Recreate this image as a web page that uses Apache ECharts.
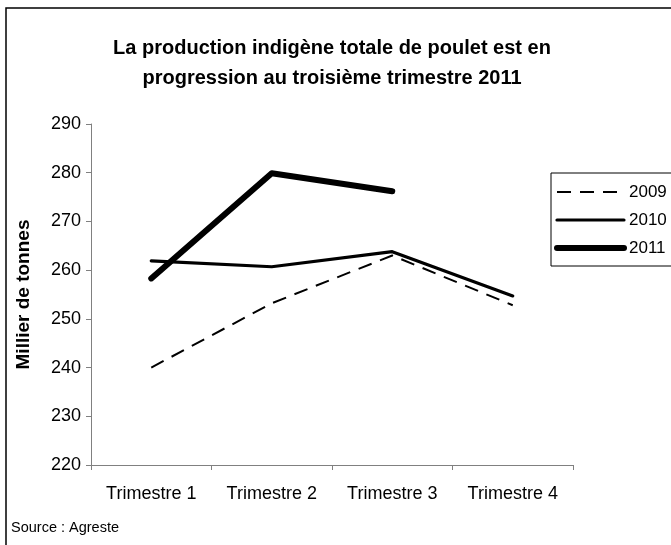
<!DOCTYPE html>
<html>
<head>
<meta charset="utf-8">
<script src="https://cdn.jsdelivr.net/npm/echarts@6/dist/echarts.min.js"></script>
<style>html,body{margin:0;padding:0;background:#fff}#c{width:671px;height:545px}</style>
</head>
<body>
<div id="c"></div>
<script>
const categories = ['Trimestre 1', 'Trimestre 2', 'Trimestre 3', 'Trimestre 4'];
const s2009 = [240.0, 253.2, 263.0, 252.8];
const s2010 = [261.9, 260.7, 263.8, 254.7];
const s2011 = [258.3, 279.9, 276.2, null];
const seriesNames = ['2009', '2010', '2011'];
const titleText = 'La production indigène totale de poulet est en\nprogression au troisième trimestre 2011';
const yAxisName = 'Millier de tonnes';
const sourceText = 'Source : Agreste';

const FONT = '"Liberation Sans", Arial, sans-serif';
const chart = echarts.init(document.getElementById('c'), null, {renderer: 'canvas'});
chart.setOption({
  animation: false,
  backgroundColor: '#fff',
  textStyle: {fontFamily: FONT},
  title: {
    text: titleText,
    left: 327, textAlign: 'center', top: 28,
    textStyle: {fontFamily: FONT, fontSize: 20, fontWeight: 'bold', color: '#000', lineHeight: 30}
  },
  graphic: [
    {type: 'rect', shape: {x: 6, y: 8, width: 700, height: 600}, style: {fill: 'none', stroke: '#000', lineWidth: 1.5}, silent: true},
    {type: 'text', left: 11, top: 520, style: {text: sourceText, font: '14.5px "Liberation Sans", Arial, sans-serif', fill: '#000'}}
  ],
  legend: {
    left: 551, top: 173,
    orient: 'vertical',
    itemWidth: 67, itemHeight: 14, itemGap: 10,
    padding: [10, 60, 9, 3],
    borderColor: '#000', borderWidth: 1,
    itemStyle: {opacity: 0},
    lineStyle: {width: 'inherit', type: 'inherit', cap: 'inherit'},
    textStyle: {fontFamily: FONT, fontSize: 17, color: '#000', lineHeight: 18},
    data: seriesNames
  },
  grid: {left: 91, right: 98, top: 124, bottom: 80, containLabel: false},
  xAxis: {
    type: 'category', data: categories, boundaryGap: true,
    axisLine: {lineStyle: {color: '#808080', width: 1}},
    axisTick: {show: true, inside: false, length: 5, lineStyle: {color: '#808080'}},
    axisLabel: {color: '#000', fontSize: 18, fontFamily: FONT, margin: 20},
    splitLine: {show: false}
  },
  yAxis: {
    type: 'value', min: 220, max: 290, interval: 10,
    name: yAxisName, nameLocation: 'middle', nameGap: 58, nameRotate: 90,
    nameTextStyle: {fontFamily: FONT, fontSize: 19, fontWeight: 'bold', color: '#000'},
    axisLine: {show: true, lineStyle: {color: '#808080', width: 1}},
    axisTick: {show: true, inside: false, length: 5, lineStyle: {color: '#808080'}},
    axisLabel: {color: '#000', fontSize: 18, fontFamily: FONT, margin: 10},
    splitLine: {show: false}
  },
  series: [
    {name: seriesNames[0], type: 'line', data: s2009, symbol: 'none', showSymbol: false,
     lineStyle: {color: '#000', width: 2, type: [14, 9]}, itemStyle: {color: '#000'}},
    {name: seriesNames[1], type: 'line', data: s2010, symbol: 'none', showSymbol: false,
     lineStyle: {color: '#000', width: 3.2, cap: 'round', join: 'round'}, itemStyle: {color: '#000'}},
    {name: seriesNames[2], type: 'line', data: s2011, symbol: 'none', showSymbol: false,
     lineStyle: {color: '#000', width: 6, cap: 'round', join: 'round'}, itemStyle: {color: '#000'}}
  ]
});
</script>
</body>
</html>
